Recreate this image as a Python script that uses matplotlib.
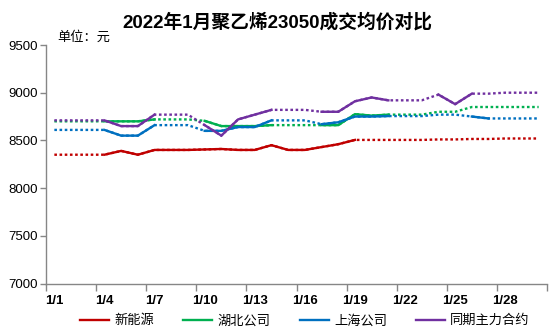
import matplotlib
matplotlib.use('Agg')

import matplotlib.pyplot as plt
import numpy as np

plt.rcParams['font.family'] = ['Liberation Sans', 'Noto Sans CJK SC']

# data (yuan / ton), one value per calendar day 1/1 .. 1/30
days = list(range(1, 31))
day_labels = ['1/%d' % d for d in days]

xinnengyuan = [8350, 8350, 8350, 8350, 8390, 8350, 8400, 8400, 8400, 8405,
               8410, 8400, 8400, 8450, 8400, 8400, 8430, 8460, 8505, 8505,
               8505, 8505, 8505, 8510, 8510, 8515, 8515, 8520, 8520, 8520]
hubei = [8700, 8700, 8700, 8700, 8700, 8700, 8720, 8720, 8720, 8705,
         8650, 8650, 8650, 8660, 8660, 8660, 8660, 8660, 8775, 8760,
         8770, 8770, 8770, 8800, 8800, 8850, 8850, 8850, 8850, 8850]
shanghai = [8610, 8610, 8610, 8610, 8550, 8550, 8660, 8660, 8660, 8600,
            8600, 8640, 8640, 8710, 8710, 8710, 8670, 8690, 8750, 8750,
            8755, 8755, 8755, 8770, 8770, 8750, 8730, 8730, 8730, 8730]
futures = [8710, 8710, 8710, 8710, 8650, 8650, 8770, 8770, 8770, 8660,
           8550, 8720, 8770, 8820, 8820, 8820, 8800, 8800, 8910, 8950,
           8920, 8920, 8920, 8980, 8880, 8990, 8990, 9000, 9000, 9000]

# days with an actual quote (drawn solid); the rest is drawn dotted
xinnengyuan_days = list(range(4, 20))
hubei_days = [4, 5, 6, 7, 10, 11, 12, 13, 14, 17, 18, 19, 20, 21]
shanghai_days = [4, 5, 6, 7, 10, 11, 12, 13, 14, 17, 18, 19, 20, 21, 26, 27]
futures_days = [4, 5, 6, 7, 10, 11, 12, 13, 14, 17, 18, 19, 20, 21, 24, 25, 26]

series = [
    ('新能源', xinnengyuan, xinnengyuan_days, '#C00000'),
    ('湖北公司', hubei, hubei_days, '#00B050'),
    ('上海公司', shanghai, shanghai_days, '#0070C0'),
    ('同期主力合约', futures, futures_days, '#7030A0'),
]

fig = plt.figure(figsize=(5.54, 3.31), dpi=100)
ax = fig.add_axes([46 / 554, 1 - 283.5 / 331, 501 / 554, 238.5 / 331])

x = np.arange(len(days))
handles = []
for name, vals, real, color in series:
    vals = np.array(vals, dtype=float)
    ax.plot(x, vals, color=color, linewidth=1.7, linestyle=(0, (1.1, 1.1)))
    solid = np.where(np.isin(days, real), vals, np.nan)
    h, = ax.plot(x, solid, color=color, linewidth=1.7, solid_joinstyle='miter')
    handles.append((h, name))

# axes
ax.set_xlim(-0.5, len(days) - 0.5)
ax.set_ylim(7000, 9500)
ax.set_yticks(np.arange(7000, 9501, 500))
ax.set_xticks(np.arange(-0.5, len(days), 3))
ax.set_xticklabels([])
ax.set_xticks(x[::3], minor=True)
ax.set_xticklabels(day_labels[::3], minor=True, fontsize=9.5, fontweight='bold')
ax.tick_params(axis='x', which='minor', length=0, pad=8)
ax.tick_params(axis='x', which='major', length=5, color='#868686', width=1)
ax.tick_params(axis='y', length=4, color='#868686', width=1, labelsize=9.5, pad=2)

for s in ['top', 'right']:
    ax.spines[s].set_visible(False)
for s in ['left', 'bottom']:
    ax.spines[s].set_color('#868686')
    ax.spines[s].set_linewidth(1)

fig.text(0.5, 1 - 22 / 331, '2022年1月聚乙烯23050成交均价对比', ha='center', va='center',
         fontsize=13.5, fontweight='bold')
fig.text(57 / 554, 1 - 37 / 331, '单位：元', ha='left', va='center', fontsize=9.5)

fig.legend([h for h, n in handles], [n for h, n in handles], loc='center',
           bbox_to_anchor=(305 / 554, 10 / 331), ncol=4, frameon=False, fontsize=9.5,
           handlelength=2.2, handletextpad=0.4, columnspacing=2.2)

fig.savefig('out.png', dpi=100)
